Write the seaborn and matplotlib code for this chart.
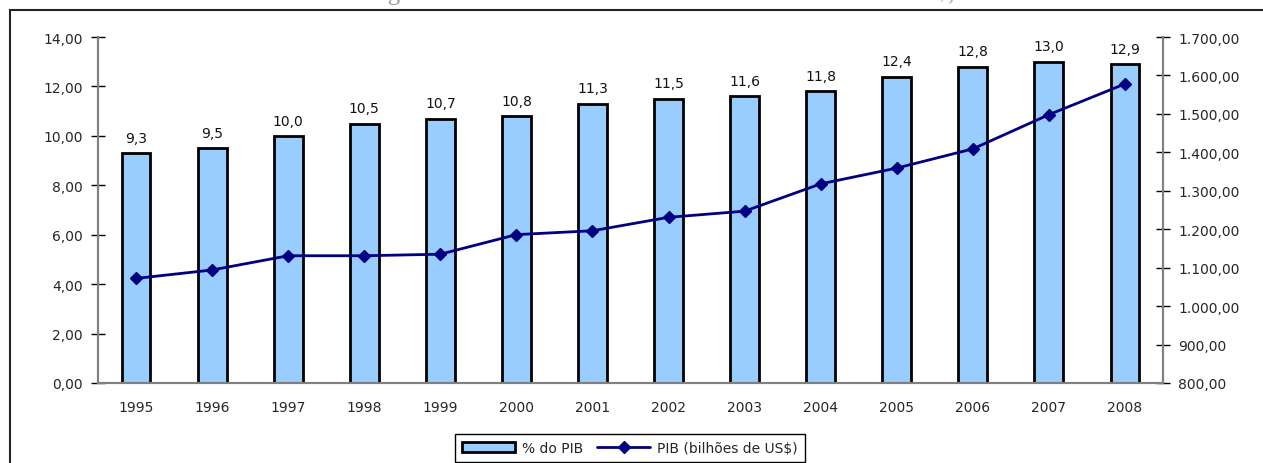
import matplotlib
matplotlib.use("Agg")
import matplotlib.pyplot as plt
from matplotlib.patches import Patch, Rectangle
from matplotlib.lines import Line2D
from matplotlib.ticker import FuncFormatter, FixedLocator
import seaborn as sns
import pandas as pd

YEARS = ["1995", "1996", "1997", "1998", "1999", "2000", "2001",
         "2002", "2003", "2004", "2005", "2006", "2007", "2008"]
PCT_PIB = [9.3, 9.5, 10.0, 10.5, 10.7, 10.8, 11.3, 11.5, 11.6, 11.8, 12.4, 12.8, 13.0, 12.9]
PIB_BI = [1072, 1094, 1131, 1131, 1135, 1186, 1196, 1231, 1247, 1318, 1359, 1409, 1498, 1578]

BAR_COLOR = "#99CCFF"
LINE_COLOR = "#000080"
AXIS_GRAY = "#808080"

sns.set_style("white")
plt.rcParams["font.family"] = ["DejaVu Sans"]
plt.rcParams["font.size"] = 10


def br_num(v, _pos=None):
    s = f"{v:,.2f}"
    return s.replace(",", "X").replace(".", ",").replace("X", ".")


df = pd.DataFrame({"ano": YEARS, "pct": PCT_PIB, "pib": PIB_BI})

fig = plt.figure(figsize=(12.63, 4.64), dpi=100)
ax = fig.add_axes([98 / 1263, 1 - 384 / 464, (1163 - 98) / 1263, (384 - 38) / 464])

sns.barplot(data=df, x="ano", y="pct", ax=ax, color=BAR_COLOR, width=0.38,
            edgecolor="black", linewidth=2, saturation=1)
ax.bar_label(ax.containers[0], labels=[f"{v:.1f}".replace(".", ",") for v in PCT_PIB],
             padding=6, fontsize=10, color="#111111")

ax.set_ylim(0, 14)
ax.set_xlim(-0.5, len(YEARS) - 0.5)
ax.yaxis.set_major_locator(FixedLocator([0, 2, 4, 6, 8, 10, 12, 14]))
ax.yaxis.set_major_formatter(FuncFormatter(br_num))
ax.set_xlabel("")
ax.set_ylabel("")
ax.xaxis.set_minor_locator(FixedLocator([i - 0.5 for i in range(len(YEARS) + 1)]))
ax.tick_params(axis="x", which="major", length=0, pad=12, labelsize=10)
ax.tick_params(axis="x", which="minor", direction="inout", length=8, width=1, color="black")
ax.tick_params(axis="y", direction="inout", length=10, width=1, color="black", pad=6, labelsize=10)

ax2 = ax.twinx()
ax2.plot(range(len(YEARS)), df["pib"], color=LINE_COLOR, lw=2, marker="D", markersize=6,
         markeredgecolor=LINE_COLOR, markerfacecolor=LINE_COLOR)
ax2.set_ylim(800, 1700)
ax2.yaxis.set_major_locator(FixedLocator(list(range(800, 1701, 100))))
ax2.yaxis.set_major_formatter(FuncFormatter(br_num))
ax2.tick_params(axis="y", direction="inout", length=10, width=1, color="black", pad=6, labelsize=10)
ax2.set_xlim(-0.5, len(YEARS) - 0.5)

for a in (ax, ax2):
    a.spines["top"].set_visible(False)
    for side in ("left", "right", "bottom"):
        a.spines[side].set_color(AXIS_GRAY)
        a.spines[side].set_linewidth(1.5)
    a.grid(False)

handles = [
    Patch(facecolor=BAR_COLOR, edgecolor="black", linewidth=2, label="% do PIB"),
    Line2D([0], [0], color=LINE_COLOR, lw=2, marker="D", markersize=6,
           label="PIB (bilhões de US$)"),
]
fig.legend(handles=handles, loc="upper center", bbox_to_anchor=(630 / 1263, 1 - 435 / 464),
           ncol=2, frameon=True, fancybox=False, edgecolor="black", framealpha=1,
           fontsize=10, handlelength=3.8, handletextpad=0.5, columnspacing=1.0,
           borderpad=0.5, borderaxespad=0)

# outer chart border (extends beyond the crop on right and bottom)
fig.patches.append(Rectangle((10 / 1263, -0.1), 1.2, 1.1 - 11 / 464, transform=fig.transFigure,
                             fill=False, edgecolor="#222222", linewidth=1.5))

# title above the chart, cropped off at the top edge in the source image
fig.text(0.5, 1.0, "Gastos Federais com Seguridade Social em % do PIB e PIB em Bilhões de US$, de 1995 a 2008",
         ha="center", va="baseline", fontsize=18, family=["Liberation Serif", "DejaVu Serif"],
         color="#999999")

fig.savefig("out.png", dpi=100, facecolor="white")
